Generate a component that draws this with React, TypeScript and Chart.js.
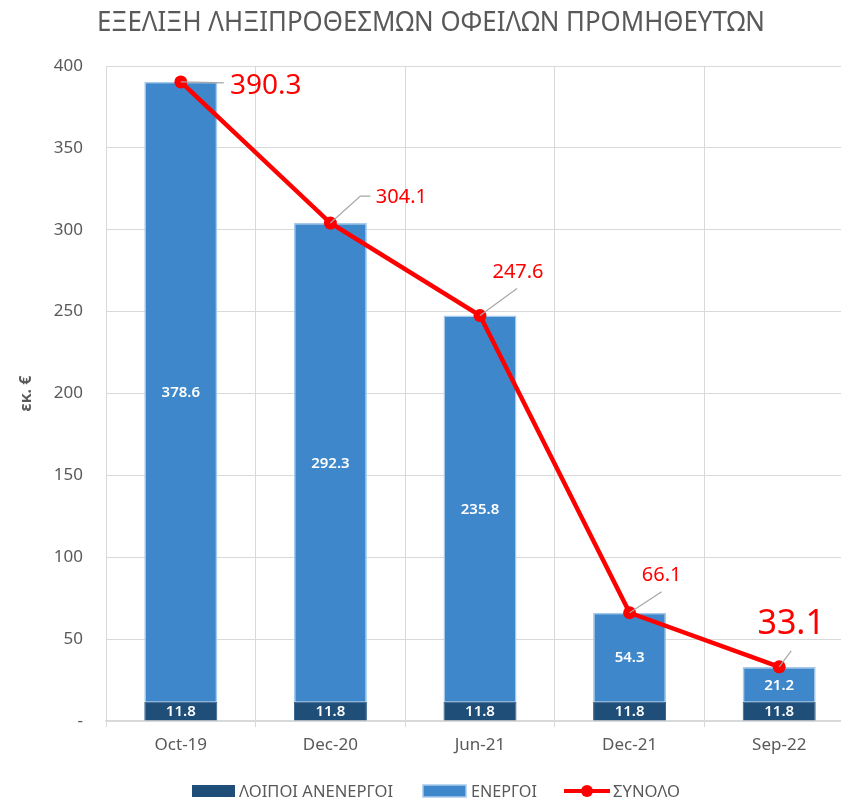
import React, { useEffect, useRef } from "react";
import { Chart, registerables } from "chart.js";

Chart.register(...registerables);

// ---- data ----
const categories = ["Oct-19", "Dec-20", "Jun-21", "Dec-21", "Sep-22"];
const inactiveValues = [11.8, 11.8, 11.8, 11.8, 11.8];
const activeValues = [378.6, 292.3, 235.8, 54.3, 21.2];
const totalValues = [390.3, 304.1, 247.6, 66.1, 33.1];
const seriesNames = ["ΛΟΙΠΟΙ ΑΝΕΝΕΡΓΟΙ", "ΕΝΕΡΓΟΙ", "ΣΥΝΟΛΟ"];
const chartTitle = "ΕΞΕΛΙΞΗ ΛΗΞΙΠΡΟΘΕΣΜΩΝ ΟΦΕΙΛΩΝ ΠΡΟΜΗΘΕΥΤΩΝ";
const yAxisTitle = "εκ. €";
const yMin = 0;
const yMax = 400;
const yStep = 50;

// ---- styles ----
const FONT = "'Noto Sans', sans-serif";
const GREY_TEXT = "#595959";
const GRID = "#D9D9D9";
const DARK = "#1F4E79";
const BLUE = "#3E87CB";
const BLUE_BORDER = "#A7CAEA";
const RED = "#FF0000";
const LEADER = "#A6A6A6";

// label placement for the total line labels (offsets from point in px)
const totalLabelStyle = [
  { dx: 85, dy: 4, size: 28, leader: [[0, 0], [43, 1]] },
  { dx: 71, dy: -26, size: 20, leader: [[0, 0], [30, -27], [40, -27]] },
  { dx: 38, dy: -43, size: 20, leader: [[0, 0], [37, -27]] },
  { dx: 32, dy: -37, size: 20, leader: [[0, 0], [32, -21]] },
  { dx: 12, dy: -42, size: 34, leader: [[0, 0], [12, -16]] },
];

const fmt = (v: number) => v.toFixed(1);

const labelsPlugin = {
  id: "customLabels",
  afterDatasetsDraw(chart: any) {
    const ctx = chart.ctx;
    ctx.save();
    // bar labels
    [0, 1].forEach((di) => {
      const meta = chart.getDatasetMeta(di);
      const data = chart.data.datasets[di].data as number[];
      meta.data.forEach((el: any, i: number) => {
        const cy = (el.y + el.base) / 2;
        ctx.fillStyle = "#FFFFFF";
        ctx.font = `600 15px ${FONT}`;
        ctx.textAlign = "center";
        ctx.textBaseline = "middle";
        ctx.fillText(fmt(data[i]), el.x, cy + 1);
      });
    });
    // total labels
    const meta = chart.getDatasetMeta(2);
    const data = chart.data.datasets[2].data as number[];
    meta.data.forEach((el: any, i: number) => {
      const st = totalLabelStyle[i];
      ctx.strokeStyle = LEADER;
      ctx.lineWidth = 1.2;
      ctx.beginPath();
      st.leader.forEach((p, k) => {
        const x = el.x + p[0];
        const y = el.y + p[1];
        if (k === 0) ctx.moveTo(x, y);
        else ctx.lineTo(x, y);
      });
      ctx.stroke();
      ctx.fillStyle = RED;
      ctx.font = `${st.size}px ${FONT}`;
      ctx.textAlign = "center";
      ctx.textBaseline = "middle";
      ctx.fillText(fmt(data[i]), el.x + st.dx, el.y + st.dy);
    });
    ctx.restore();
  },
  afterDraw(chart: any) {
    const ctx = chart.ctx;
    ctx.save();
    // title
    ctx.fillStyle = GREY_TEXT;
    ctx.font = `28px ${FONT}`;
    ctx.textAlign = "center";
    ctx.textBaseline = "alphabetic";
    ctx.fillText(chartTitle, 431, 31, 668);

    // legend
    const y = 791;
    ctx.font = `17px ${FONT}`;
    ctx.textAlign = "left";
    ctx.textBaseline = "alphabetic";
    let x = 192;
    // item 1
    ctx.fillStyle = DARK;
    ctx.fillRect(x, y - 6, 43, 12);
    ctx.fillStyle = GREY_TEXT;
    ctx.fillText(seriesNames[0], x + 47, y + 6, 154);
    x += 47 + 154 + 30;
    // item 2
    ctx.fillStyle = BLUE;
    ctx.fillRect(x, y - 6, 43, 12);
    ctx.strokeStyle = BLUE_BORDER;
    ctx.lineWidth = 1.5;
    ctx.strokeRect(x, y - 6, 43, 12);
    ctx.fillStyle = GREY_TEXT;
    ctx.fillText(seriesNames[1], x + 48, y + 6, 66);
    x += 48 + 66 + 27;
    // item 3
    ctx.strokeStyle = RED;
    ctx.lineWidth = 4;
    ctx.beginPath();
    ctx.moveTo(x, y);
    ctx.lineTo(x + 46, y);
    ctx.stroke();
    ctx.fillStyle = RED;
    ctx.beginPath();
    ctx.arc(x + 23, y, 6, 0, Math.PI * 2);
    ctx.fill();
    ctx.fillStyle = GREY_TEXT;
    ctx.fillText(seriesNames[2], x + 49, y + 6, 67);
    ctx.restore();
  },
};

export default function App() {
  const canvasRef = useRef<HTMLCanvasElement | null>(null);

  useEffect(() => {
    if (!canvasRef.current) return;
    Chart.defaults.font.family = FONT;
    const chart = new Chart(canvasRef.current, {
      type: "bar",
      data: {
        labels: categories,
        datasets: [
          {
            type: "bar",
            label: seriesNames[0],
            data: inactiveValues,
            backgroundColor: DARK,
            borderColor: "#2A5A86",
            borderWidth: 1,
            stack: "bars",
            order: 2,
            barPercentage: 0.488,
            categoryPercentage: 1,
          },
          {
            type: "bar",
            label: seriesNames[1],
            data: activeValues,
            backgroundColor: BLUE,
            borderColor: BLUE_BORDER,
            borderWidth: 1.5,
            stack: "bars",
            order: 2,
            barPercentage: 0.488,
            categoryPercentage: 1,
          },
          {
            type: "line",
            label: seriesNames[2],
            data: totalValues,
            borderColor: RED,
            backgroundColor: RED,
            borderWidth: 4.5,
            pointRadius: 6.5,
            pointHoverRadius: 6.5,
            pointBackgroundColor: RED,
            pointBorderWidth: 0,
            stack: "line",
            order: 0,
            tension: 0,
          } as any,
        ],
      },
      options: {
        responsive: false,
        animation: false,
        layout: { padding: { top: 66, right: 16, bottom: 40, left: 0 } },
        plugins: {
          legend: { display: false },
          title: { display: false },
          tooltip: { enabled: false },
        },
        scales: {
          x: {
            stacked: true,
            offset: true,
            grid: {
              offset: true,
              color: GRID,
              lineWidth: 1,
              drawTicks: true,
              tickLength: 6,
              tickColor: GRID,
            },
            border: { display: true, color: GRID, width: 1.5 },
            ticks: {
              color: GREY_TEXT,
              font: { size: 17, family: FONT },
              padding: 8,
            },
            afterFit: (scale: any) => {
              scale.height = 40;
            },
          },
          y: {
            stacked: true,
            min: yMin,
            max: yMax,
            grid: { color: GRID, lineWidth: 1, drawTicks: false },
            border: { display: false },
            ticks: {
              stepSize: yStep,
              color: GREY_TEXT,
              font: { size: 17, family: FONT },
              padding: 23,
              callback: (v: any) => (Number(v) === 0 ? "-" : String(v)),
            },
            title: {
              display: true,
              text: yAxisTitle,
              color: GREY_TEXT,
              font: { size: 16, weight: "bold", family: FONT },
              padding: { top: 17, bottom: 0 },
            },
            afterFit: (scale: any) => {
              scale.width = 106;
            },
          },
        },
      },
      plugins: [labelsPlugin],
    });
    return () => chart.destroy();
  }, []);

  return (
    <div
      style={{
        position: "fixed",
        left: 0,
        top: 0,
        width: 841,
        height: 801,
        overflow: "hidden",
        background: "#FFFFFF",
      }}
    >
      <canvas ref={canvasRef} width={870} height={801} style={{ display: "block" }} />
    </div>
  );
}
